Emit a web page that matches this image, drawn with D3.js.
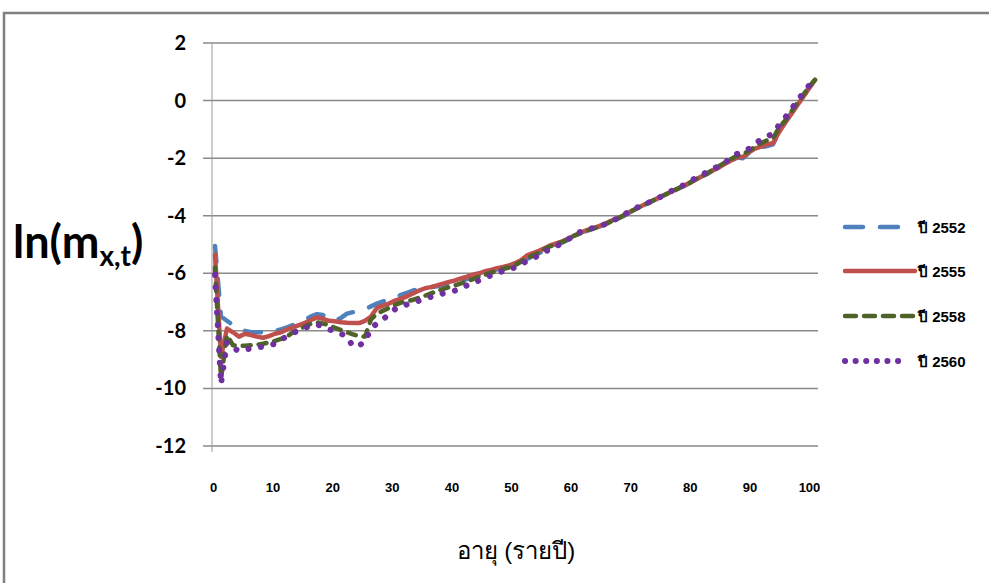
<!DOCTYPE html>
<html>
<head>
<meta charset="utf-8">
<script src="https://cdn.jsdelivr.net/npm/d3@7"></script>
<style>
  body { margin: 0; background: #fff; }
  svg { display: block; }
</style>
</head>
<body>
<div id="chart"></div>
<script>
// ages 0..100
const ages = d3.range(0, 101)
const yTicks = [2, 0, -2, -4, -6, -8, -10, -12]
const xTicks = [0, 10, 20, 30, 40, 50, 60, 70, 80, 90, 100]
const seriesNames = ["ปี 2552", "ปี 2555", "ปี 2558", "ปี 2560"]

const y2552 = [-5.05, -7.5, -7.65, -7.8, -7.9, -8.0, -8.05, -8.05, -8.05, -8.05,
  -8.0, -7.95, -7.88, -7.8, -7.72, -7.62, -7.5, -7.42, -7.45, -7.55,
  -7.65, -7.55, -7.4, -7.35, -7.3, -7.25, -7.15, -7.05, -6.98, -6.9,
  -6.85, -6.75, -6.68, -6.6, -6.55, -6.5, -6.48, -6.45, -6.4, -6.35,
  -6.3, -6.25, -6.2, -6.12, -6.05, -5.98, -5.92, -5.86, -5.8, -5.75,
  -5.68, -5.6, -5.5, -5.4, -5.3, -5.2, -5.1, -5.0, -4.92, -4.82,
  -4.7, -4.6, -4.52, -4.45, -4.38, -4.3, -4.2, -4.12, -4.02, -3.9,
  -3.8, -3.68, -3.58, -3.48, -3.38, -3.28, -3.18, -3.08, -2.98, -2.88,
  -2.75, -2.65, -2.55, -2.42, -2.32, -2.2, -2.1, -1.98, -2.0, -1.82,
  -1.7, -1.62, -1.58, -1.52, -1.1, -0.75, -0.45, -0.15, 0.15, 0.45, 0.72]

const y2555 = [-5.35, -8.9, -7.92, -8.05, -8.2, -8.1, -8.15, -8.2, -8.24, -8.18,
  -8.1, -8.05, -7.95, -7.88, -7.8, -7.72, -7.62, -7.53, -7.58, -7.65,
  -7.67, -7.7, -7.72, -7.73, -7.73, -7.65, -7.5, -7.2, -7.12, -7.05,
  -6.95, -6.88, -6.8, -6.7, -6.6, -6.52, -6.48, -6.42, -6.36, -6.3,
  -6.25, -6.18, -6.12, -6.05, -6.0, -5.93, -5.88, -5.82, -5.78, -5.73,
  -5.65, -5.55, -5.38, -5.3, -5.22, -5.12, -5.02, -4.95, -4.88, -4.78,
  -4.68, -4.58, -4.5, -4.43, -4.36, -4.28, -4.18, -4.1, -4.0, -3.88,
  -3.78, -3.67, -3.57, -3.47, -3.37, -3.27, -3.17, -3.07, -2.97, -2.87,
  -2.76, -2.65, -2.54, -2.42, -2.32, -2.2, -2.08, -1.97, -1.95, -1.8,
  -1.67, -1.6, -1.52, -1.48, -1.1, -0.78, -0.48, -0.18, 0.12, 0.42, 0.72]

const y2558 = [-5.8, -9.65, -8.15, -8.5, -8.52, -8.52, -8.5, -8.48, -8.45, -8.4,
  -8.35, -8.28, -8.2, -8.05, -7.95, -7.85, -7.75, -7.7, -7.75, -7.8,
  -7.9, -7.97, -8.05, -8.12, -8.18, -8.2, -7.6, -7.4, -7.3, -7.2,
  -7.1, -7.02, -6.98, -6.92, -6.85, -6.78, -6.7, -6.62, -6.55, -6.48,
  -6.42, -6.35, -6.28, -6.2, -6.12, -6.05, -5.98, -5.92, -5.85, -5.8,
  -5.72, -5.6, -5.48, -5.38, -5.28, -5.15, -5.05, -4.98, -4.9, -4.8,
  -4.68, -4.6, -4.52, -4.45, -4.38, -4.3, -4.2, -4.1, -4.0, -3.88,
  -3.78, -3.67, -3.57, -3.47, -3.37, -3.27, -3.17, -3.07, -2.97, -2.87,
  -2.75, -2.64, -2.53, -2.4, -2.28, -2.15, -2.03, -1.92, -1.85, -1.75,
  -1.6, -1.48, -1.38, -1.3, -0.95, -0.7, -0.4, -0.1, 0.18, 0.48, 0.72]

const y2560 = [-6.05, -9.85, -8.4, -8.6, -8.7, -8.65, -8.62, -8.58, -8.55, -8.5,
  -8.45, -8.3, -8.2, -8.08, -7.98, -7.9, -7.82, -7.78, -7.85, -7.95,
  -8.02, -8.1, -8.2, -8.55, -8.5, -8.4, -7.9, -7.75, -7.6, -7.42,
  -7.25, -7.15, -7.08, -7.02, -6.95, -6.88, -6.82, -6.77, -6.7, -6.65,
  -6.6, -6.5, -6.42, -6.33, -6.25, -6.15, -6.08, -6.0, -5.92, -5.87,
  -5.8, -5.68, -5.58, -5.48, -5.38, -5.25, -5.15, -5.05, -4.93, -4.8,
  -4.65, -4.55, -4.5, -4.42, -4.36, -4.3, -4.2, -4.1, -3.98, -3.86,
  -3.75, -3.65, -3.57, -3.47, -3.37, -3.27, -3.15, -3.05, -2.95, -2.85,
  -2.7, -2.6, -2.48, -2.38, -2.27, -2.15, -2.0, -1.85, -1.78, -1.67,
  -1.5, -1.35, -1.25, -1.15, -0.85, -0.6, -0.32, -0.02, 0.25, 0.52, 0.72]

const styles = [
  { color: "#4F81BD", width: 4.5, dash: "16,17", cap: "round", legendDash: "18,17" },
  { color: "#C0504D", width: 4.5, dash: null, cap: "round", legendDash: null },
  { color: "#4F6228", width: 4.5, dash: "8,8", cap: "round", legendDash: "11,8" },
  { color: "#7030A0", width: 6, dash: "0.1,12.5", cap: "round", legendDash: "0.1,10.5" }
]
const seriesValues = [y2552, y2555, y2558, y2560]

const W = 989, H = 583
const svg = d3.select("#chart").append("svg").attr("width", W).attr("height", H)

// outer frame (top + left edges visible)
svg.append("path")
  .attr("d", `M4,${H} L4,13 L${W},13`)
  .attr("fill", "none").attr("stroke", "#808080").attr("stroke-width", 2.5)

const x = d3.scaleLinear().domain([-0.5, 100.5]).range([212, 818])
const y = d3.scaleLinear().domain([-12, 2]).range([446, 43])

// gridlines + tick marks
svg.append("g").selectAll("line").data(yTicks).join("line")
  .attr("x1", 203).attr("x2", 818)
  .attr("y1", d => y(d)).attr("y2", d => y(d))
  .attr("stroke", "#8a8a8a").attr("stroke-width", 1.5)

svg.append("line")
  .attr("x1", 212).attr("x2", 212).attr("y1", y(2)).attr("y2", y(-12) + 6)
  .attr("stroke", "#9a9a9a").attr("stroke-width", 1)

svg.append("g").selectAll("text").data(yTicks).join("text")
  .attr("x", 186).attr("y", d => y(d) + 7)
  .attr("text-anchor", "end")
  .style("font-family", "Lato, 'Open Sans', sans-serif")
  .style("font-weight", "bold").style("font-size", "20px").style("fill", "#000")
  .text(d => d)

// category labels sit a touch left of the data points, as in the source
svg.append("g").selectAll("text").data(xTicks).join("text")
  .attr("x", d => x(d) - 1.5 - d * 0.04).attr("y", 492)
  .attr("text-anchor", "middle")
  .style("font-family", "'Liberation Sans Narrow', 'Liberation Sans', sans-serif")
  .style("font-weight", "bold").style("font-size", "13px").style("fill", "#000")
  .text(d => d)

// series
const line = d3.line().x((d, i) => x(ages[i])).y(d => y(d))
seriesValues.forEach((vals, k) => {
  const s = styles[k]
  svg.append("path")
    .datum(vals)
    .attr("d", line)
    .attr("fill", "none")
    .attr("stroke", s.color)
    .attr("stroke-width", s.width)
    .attr("stroke-linecap", s.cap)
    .attr("stroke-linejoin", "round")
    .attr("stroke-dasharray", s.dash)
})

// y title ln(m x,t)
const yt = svg.append("text")
  .attr("x", 13).attr("y", 258)
  .style("font-family", "Lato, 'Open Sans', sans-serif")
  .style("font-weight", "bold").style("font-size", "45px").style("fill", "#000")
yt.append("tspan").text("ln(m")
yt.append("tspan").attr("dy", 8).style("font-size", "28px").text("x,t")
yt.append("tspan").attr("dy", -8).text(")")

// x title
svg.append("text")
  .attr("x", 516).attr("y", 559)
  .attr("text-anchor", "middle")
  .style("font-family", "'Liberation Sans', 'Noto Sans', sans-serif")
  .style("font-size", "24px").style("fill", "#000")
  .text("อายุ (รายปี)")

// legend
const legendY = [227, 271, 316, 361]
const legendX2 = [898, 915, 914, 908]
const lg = svg.append("g")
seriesNames.forEach((name, k) => {
  const s = styles[k]
  lg.append("line")
    .attr("x1", 845).attr("x2", legendX2[k])
    .attr("y1", legendY[k]).attr("y2", legendY[k])
    .attr("stroke", s.color).attr("stroke-width", s.width)
    .attr("stroke-linecap", s.cap)
    .attr("stroke-dasharray", s.legendDash)
  lg.append("text")
    .attr("x", 918).attr("y", legendY[k] + 6)
    .style("font-family", "'Liberation Sans Narrow', 'Liberation Sans', sans-serif")
    .style("font-weight", "bold").style("font-size", "15px").style("fill", "#000")
    .text(name)
})
</script>
</body>
</html>
